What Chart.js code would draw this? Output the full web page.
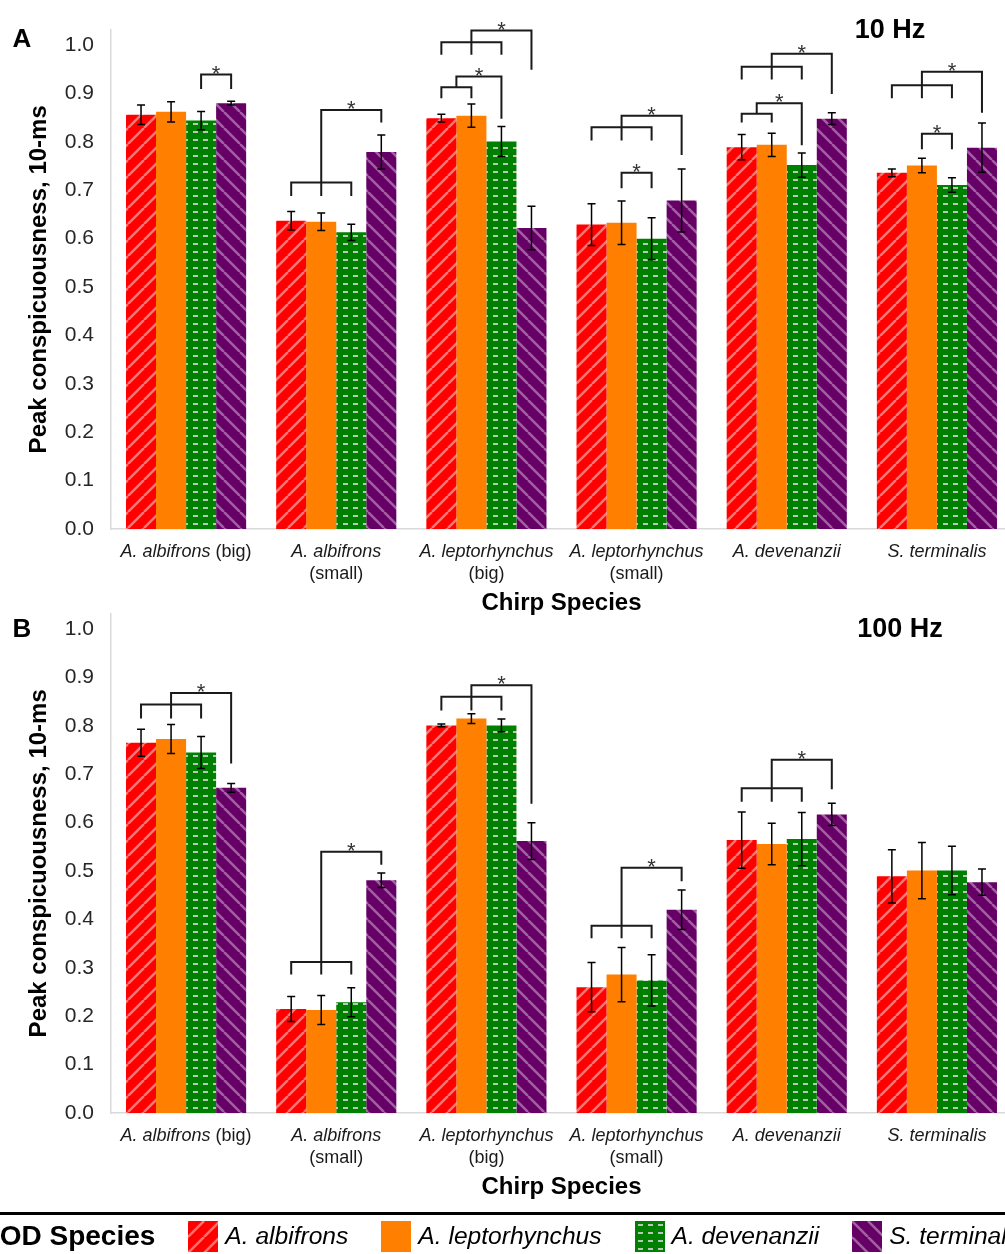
<!DOCTYPE html>
<html>
<head>
<meta charset="utf-8">
<title>Peak conspicuousness of chirps at 10 Hz and 100 Hz</title>
<script src="https://cdn.jsdelivr.net/npm/chart.js@4.4.1/dist/chart.umd.min.js"></script>
<style>
  html, body { margin: 0; padding: 0; background: #fff; }
  body { position: relative; width: 1005px; height: 1254px; overflow: hidden;
         font-family: 'Liberation Sans', Arial, sans-serif; }
  canvas.panel { position: absolute; left: 0; }
  #chartA { top: 0; }
  #chartB { top: 584px; }
  #legend { position: absolute; left: 0; top: 1212px; width: 1100px; height: 42px;
            border-top: 3px solid #000; display: flex; align-items: center; white-space: nowrap; }
  #legend .title { font-weight: bold; font-size: 28px; margin-left: -19px; color: #000; }
  #legend .item { display: flex; align-items: center; margin-left: 33px; }
  #legend .item canvas { display: block; margin-right: 7px; }
  #legend .label { font-style: italic; font-size: 24.6px; color: #000; }
</style>
</head>
<body>
<canvas id="chartA" class="panel" width="1020" height="620"></canvas>
<canvas id="chartB" class="panel" width="1020" height="620"></canvas>
<div id="legend"><span class="title">EOD Species</span></div>
<script>
const FONT = "'Liberation Sans', Arial, sans-serif";

// Chirp species on the x axis (name in italics, size class upright)
const chirpSpecies = ['A. albifrons', 'A. albifrons', 'A. leptorhynchus', 'A. leptorhynchus', 'A. devenanzii', 'S. terminalis'];
const chirpSize = ['(big)', '(small)', '(big)', '(small)', '', ''];

// EOD species (one bar series each)
const odSpecies = ['A. albifrons', 'A. leptorhynchus', 'A. devenanzii', 'S. terminalis'];

const yTickLabels = ['0.0', '0.1', '0.2', '0.3', '0.4', '0.5', '0.6', '0.7', '0.8', '0.9', '1.0'];

// 10 Hz: mean peak conspicuousness and error
const hz10Albifrons      = [0.856, 0.637, 0.849, 0.629, 0.789, 0.736];
const hz10Leptorhynchus  = [0.862, 0.635, 0.854, 0.633, 0.794, 0.751];
const hz10Devenanzii     = [0.844, 0.613, 0.801, 0.600, 0.752, 0.711];
const hz10Terminalis     = [0.880, 0.779, 0.622, 0.679, 0.848, 0.788];
const hz10AlbifronsErr     = [0.020, 0.019, 0.008, 0.043, 0.026, 0.008];
const hz10LeptorhynchusErr = [0.021, 0.018, 0.024, 0.045, 0.024, 0.015];
const hz10DevenanziiErr    = [0.019, 0.017, 0.031, 0.043, 0.025, 0.015];
const hz10TerminalisErr    = [0.004, 0.035, 0.045, 0.065, 0.012, 0.051];

// 100 Hz: mean peak conspicuousness and error
const hz100Albifrons     = [0.765, 0.215, 0.801, 0.260, 0.564, 0.489];
const hz100Leptorhynchus = [0.773, 0.213, 0.815, 0.286, 0.556, 0.501];
const hz100Devenanzii    = [0.745, 0.229, 0.801, 0.274, 0.566, 0.501];
const hz100Terminalis    = [0.672, 0.481, 0.562, 0.420, 0.617, 0.477];
const hz100AlbifronsErr     = [0.028, 0.026, 0.003, 0.051, 0.058, 0.055];
const hz100LeptorhynchusErr = [0.030, 0.030, 0.010, 0.056, 0.043, 0.058];
const hz100DevenanziiErr    = [0.033, 0.030, 0.013, 0.053, 0.055, 0.050];
const hz100TerminalisErr    = [0.009, 0.015, 0.038, 0.041, 0.023, 0.027];

// Significance brackets, in axis units:
// [chirp index, bars joined, bracket level, leg end, (target bar, upper level, target leg end)]
const hz10Brackets = [
  [0, [2, 3], 0.939, 0.909],
  [1, [0, 1, 2], 0.716, 0.688, 3, 0.866, 0.840],
  [2, [0, 1], 0.913, 0.890, 2, 0.935, 0.848],
  [2, [0, 1, 2], 1.006, 0.980, 3, 1.030, 0.949],
  [3, [0, 1, 2], 0.830, 0.803, 3, 0.854, 0.773],
  [3, [1, 2], 0.736, 0.704],
  [4, [0, 1, 2], 0.955, 0.929, 3, 0.982, 0.899],
  [4, [0, 1], 0.858, 0.840, 2, 0.880, 0.793],
  [5, [0, 1, 2], 0.917, 0.890, 3, 0.945, 0.860],
  [5, [1, 2], 0.817, 0.785]
];
const hz100Brackets = [
  [0, [0, 1, 2], 0.844, 0.815, 3, 0.868, 0.722],
  [1, [0, 1, 2], 0.312, 0.286, 3, 0.540, 0.513],
  [2, [0, 1, 2], 0.860, 0.832, 3, 0.884, 0.639],
  [3, [0, 1, 2], 0.387, 0.361, 3, 0.507, 0.479],
  [4, [0, 1, 2], 0.671, 0.643, 3, 0.730, 0.669]
];

// ---- fill patterns ----
function makeTile(kind) {
  const c = document.createElement('canvas');
  const g = c.getContext('2d');
  if (kind === 'up' || kind === 'down') {
    c.width = c.height = 16;
    g.fillStyle = kind === 'up' ? '#FF0000' : '#660066';
    g.fillRect(0, 0, 16, 16);
    g.strokeStyle = kind === 'up' ? 'rgba(255,255,255,0.45)' : 'rgba(255,255,255,0.38)';
    g.lineWidth = 2.5;
    g.beginPath();
    for (const o of [-16, 0, 16]) {
      if (kind === 'up') { g.moveTo(o, 16); g.lineTo(o + 16, 0); }
      else { g.moveTo(o, 0); g.lineTo(o + 16, 16); }
    }
    g.stroke();
  } else {
    c.width = 10; c.height = 8;
    g.fillStyle = '#008000';
    g.fillRect(0, 0, 10, 8);
    g.fillStyle = 'rgba(205,205,205,0.9)';
    g.fillRect(3, 3, 5, 2);
  }
  return c;
}
const tiles = { up: makeTile('up'), down: makeTile('down'), dash: makeTile('dash') };
const seriesFill = ['up', '#FF8000', 'dash', 'down'];
function fillFor(ctx, k) {
  const f = seriesFill[k];
  return tiles[f] ? ctx.createPattern(tiles[f], 'repeat') : f;
}

// ---- drawing helpers: error bars, brackets, labels ----
const decor = {
  id: 'decor',
  afterDatasetsDraw(chart, args, opts) {
    const { ctx, scales: { y } } = chart;
    ctx.save();
    ctx.strokeStyle = '#000';
    ctx.lineWidth = 1.5;
    chart.data.datasets.forEach((ds, di) => {
      const meta = chart.getDatasetMeta(di);
      ds.data.forEach((v, i) => {
        const e = opts.errors[di][i];
        const bx = meta.data[i].x;
        const yt = y.getPixelForValue(v + e);
        const yb = y.getPixelForValue(v - e);
        ctx.beginPath();
        ctx.moveTo(bx, yt); ctx.lineTo(bx, yb);
        ctx.moveTo(bx - 4, yt); ctx.lineTo(bx + 4, yt);
        ctx.moveTo(bx - 4, yb); ctx.lineTo(bx + 4, yb);
        ctx.stroke();
      });
    });

    const barX = (c, b) => chart.getDatasetMeta(b).data[c].x;
    ctx.strokeStyle = '#1a1a1a';
    ctx.lineWidth = 2;
    ctx.fillStyle = '#333';
    ctx.font = `22px ${FONT}`;
    ctx.textAlign = 'center';
    ctx.textBaseline = 'alphabetic';
    opts.brackets.forEach(([c, legs, lvl, legEnd, target, top, targetEnd]) => {
      const xs = legs.map(b => barX(c, b));
      const x0 = xs[0], x1 = xs[xs.length - 1];
      const yl = y.getPixelForValue(lvl), yle = y.getPixelForValue(legEnd);
      ctx.beginPath();
      ctx.moveTo(x0, yle); ctx.lineTo(x0, yl); ctx.lineTo(x1, yl); ctx.lineTo(x1, yle);
      for (let k = 1; k < xs.length - 1; k++) { ctx.moveTo(xs[k], yl); ctx.lineTo(xs[k], yle); }
      let starX = (x0 + x1) / 2, starY = yl;
      if (target !== undefined) {
        const xm = starX, xt = barX(c, target);
        const yu = y.getPixelForValue(top), yte = y.getPixelForValue(targetEnd);
        ctx.moveTo(xm, yl); ctx.lineTo(xm, yu); ctx.lineTo(xt, yu); ctx.lineTo(xt, yte);
        starX = (xm + xt) / 2; starY = yu;
      }
      ctx.stroke();
      ctx.fillText('*', starX, starY + 6);
    });
    ctx.restore();
  },
  afterDraw(chart, args, opts) {
    const { ctx, scales: { x }, chartArea } = chart;
    ctx.save();
    ctx.fillStyle = '#1a1a1a';
    ctx.textBaseline = 'alphabetic';
    const italic = `italic 18px ${FONT}`, upright = `18px ${FONT}`;
    chirpSpecies.forEach((name, i) => {
      const cx = x.getPixelForValue(i);
      const tag = chirpSize[i];
      const base = chartArea.bottom + 28;
      ctx.font = italic;
      const wn = ctx.measureText(name).width;
      ctx.font = upright;
      const ws = ctx.measureText(' ').width;
      const wt = tag ? ctx.measureText(tag).width : 0;
      if (!tag || wn + ws + wt <= 140) {
        const total = wn + (tag ? ws + wt : 0);
        const sx = cx - total / 2;
        ctx.textAlign = 'left';
        ctx.font = italic;
        ctx.fillText(name, sx, base);
        if (tag) { ctx.font = upright; ctx.fillText(tag, sx + wn + ws, base); }
      } else {
        ctx.textAlign = 'center';
        ctx.font = italic;
        ctx.fillText(name, cx, base);
        ctx.font = upright;
        ctx.fillText(tag, cx, base + 22);
      }
    });
    ctx.fillStyle = '#000';
    ctx.textAlign = 'center';
    ctx.font = `bold 26px ${FONT}`;
    ctx.fillText(opts.letter, 22, opts.letterY);
    ctx.font = `bold 27px ${FONT}`;
    ctx.fillText(opts.freq, opts.freqX, opts.freqY);
    ctx.restore();
  }
};

function makePanel(id, series, errors, brackets, labels) {
  const canvas = document.getElementById(id);
  const ctx = canvas.getContext('2d');
  return new Chart(ctx, {
    type: 'bar',
    data: {
      labels: chirpSpecies.map((s, i) => (s + ' ' + chirpSize[i]).trim()),
      datasets: series.map((data, k) => ({
        label: odSpecies[k],
        data,
        backgroundColor: fillFor(ctx, k),
        borderWidth: 0,
        categoryPercentage: 0.8,
        barPercentage: 1.0
      }))
    },
    options: {
      responsive: false,
      animation: false,
      layout: { padding: { top: 20, right: 8, left: 0, bottom: 0 } },
      scales: {
        x: {
          grid: { display: false, drawTicks: false },
          border: { color: '#d9d9d9', width: 1.5 },
          ticks: { display: false },
          title: { display: true, text: 'Chirp Species', color: '#000',
                   font: { family: FONT, size: 24, weight: 'bold' }, padding: { top: 0, bottom: 2 } },
          afterFit: s => { s.height = 91; }
        },
        y: {
          min: 0, max: 1.032,
          grid: { display: false, drawTicks: false },
          border: { color: '#d9d9d9', width: 1.5 },
          ticks: { stepSize: 0.1, includeBounds: false, padding: 17, color: '#262626',
                   font: { family: FONT, size: 21 },
                   callback: v => yTickLabels[Math.round(v * 10)] },
          title: { display: true, text: 'Peak conspicuousness, 10-ms', color: '#000',
                   font: { family: FONT, size: 24, weight: 'bold' }, padding: { top: 25, bottom: 0 } },
          afterFit: s => { s.width = 111; }
        }
      },
      plugins: {
        legend: { display: false },
        tooltip: { enabled: false },
        decor: Object.assign({ errors, brackets }, labels)
      }
    },
    plugins: [decor]
  });
}

makePanel('chartA',
  [hz10Albifrons, hz10Leptorhynchus, hz10Devenanzii, hz10Terminalis],
  [hz10AlbifronsErr, hz10LeptorhynchusErr, hz10DevenanziiErr, hz10TerminalisErr],
  hz10Brackets,
  { letter: 'A', letterY: 47, freq: '10 Hz', freqX: 890, freqY: 38 });

makePanel('chartB',
  [hz100Albifrons, hz100Leptorhynchus, hz100Devenanzii, hz100Terminalis],
  [hz100AlbifronsErr, hz100LeptorhynchusErr, hz100DevenanziiErr, hz100TerminalisErr],
  hz100Brackets,
  { letter: 'B', letterY: 53, freq: '100 Hz', freqX: 900, freqY: 53 });

// ---- legend row ----
const legend = document.getElementById('legend');
odSpecies.forEach((name, k) => {
  const item = document.createElement('span');
  item.className = 'item';
  const sw = document.createElement('canvas');
  sw.width = 30; sw.height = 31;
  const g = sw.getContext('2d');
  g.fillStyle = fillFor(g, k);
  g.fillRect(0, 0, 30, 31);
  const lab = document.createElement('span');
  lab.className = 'label';
  lab.textContent = name;
  item.appendChild(sw);
  item.appendChild(lab);
  legend.appendChild(item);
});
</script>
</body>
</html>
